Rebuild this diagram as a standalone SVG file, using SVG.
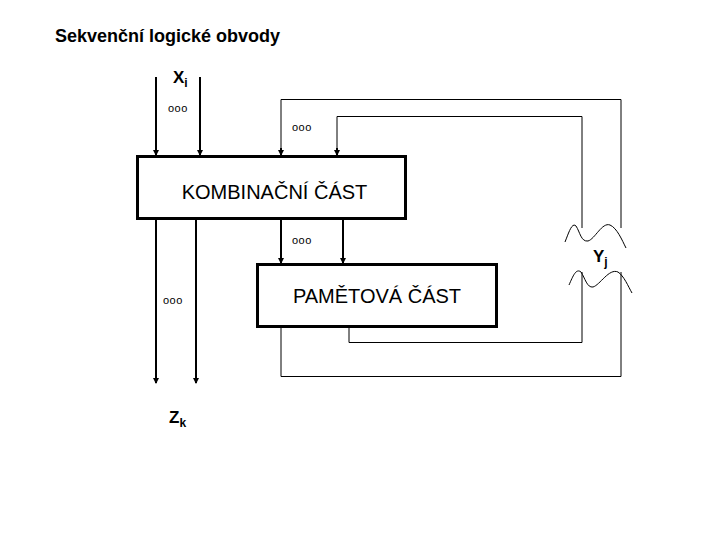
<svg xmlns="http://www.w3.org/2000/svg" width="720" height="540" viewBox="0 0 720 540">
<style>
.box{fill:#fff;stroke:#000;stroke-width:3}
.thick{fill:none;stroke:#000;stroke-width:2}
.thin{fill:none;stroke:#000;stroke-width:1}
.t{font-family:"Liberation Sans",Arial,sans-serif;fill:#000}
.dots{font-family:"Liberation Sans",Arial,sans-serif;font-size:11px;fill:#000;letter-spacing:0.5px}
</style>
<defs>
<marker id="ah" markerWidth="6" markerHeight="6" refX="5" refY="3" orient="auto" markerUnits="userSpaceOnUse">
<path d="M0,0 L6,3 L0,6 Z" fill="#000"/>
</marker>
</defs>
<rect width="720" height="540" fill="#fff"/>
<text class="t" x="55" y="42" font-size="18" font-weight="bold">Sekvenční logické obvody</text>

<g id="connectors">
<line class="thick" x1="156" y1="77" x2="156" y2="155" marker-end="url(#ah)"/>
<line class="thick" x1="200" y1="77" x2="200" y2="155" marker-end="url(#ah)"/>
<polyline class="thin" points="621,228 621,99.5 281,99.5 281,150"/>
<line class="thick" x1="281" y1="148" x2="281" y2="155" marker-end="url(#ah)"/>
<polyline class="thin" points="582,228 582,116.5 337,116.5 337,150"/>
<line class="thick" x1="337" y1="148" x2="337" y2="155" marker-end="url(#ah)"/>
<line class="thick" x1="281" y1="220" x2="281" y2="263" marker-end="url(#ah)"/>
<line class="thick" x1="343" y1="220" x2="343" y2="263" marker-end="url(#ah)"/>
<line class="thick" x1="156" y1="220" x2="156" y2="383" marker-end="url(#ah)"/>
<line class="thick" x1="196" y1="220" x2="196" y2="383" marker-end="url(#ah)"/>
<polyline class="thin" points="349,328 349,342.5 582,342.5 582,272"/>
<polyline class="thin" points="281,328 281,376.5 621,376.5 621,272"/>
<path class="thin" d="M565,242 C569,232 572,222 576,226 C580,232 581,242 588,241 C595,239 602,222 610,225 C617,228 622,240 626,248"/>
<path class="thin" d="M569,285 C573,276 576,268 581,272 C585,278 587,288 593,287 C600,285 609,268 618,272 C624,276 628,286 632,293"/>
</g>

<g id="kombinacni">
<rect class="box" x="137.5" y="156.5" width="268" height="62"/>
<text class="t" x="274.5" y="199" font-size="20" text-anchor="middle">KOMBINAČNÍ ČÁST</text>
</g>
<g id="pametova">
<rect class="box" x="257.5" y="264.5" width="239" height="62"/>
<text class="t" x="377" y="303" font-size="20" text-anchor="middle">PAMĚTOVÁ ČÁST</text>
</g>

<g id="labels">
<text class="t" x="173" y="83" font-size="17" font-weight="bold">X<tspan font-size="12" dy="4">i</tspan></text>
<text class="t" x="593" y="262" font-size="17" font-weight="bold">Y<tspan font-size="12" dy="4">j</tspan></text>
<text class="t" x="169" y="423" font-size="17" font-weight="bold">Z<tspan font-size="12" dy="4">k</tspan></text>
<text class="dots" x="168" y="112">ooo</text>
<text class="dots" x="292" y="131">ooo</text>
<text class="dots" x="292" y="244">ooo</text>
<text class="dots" x="163" y="304">ooo</text>
</g>
</svg>
